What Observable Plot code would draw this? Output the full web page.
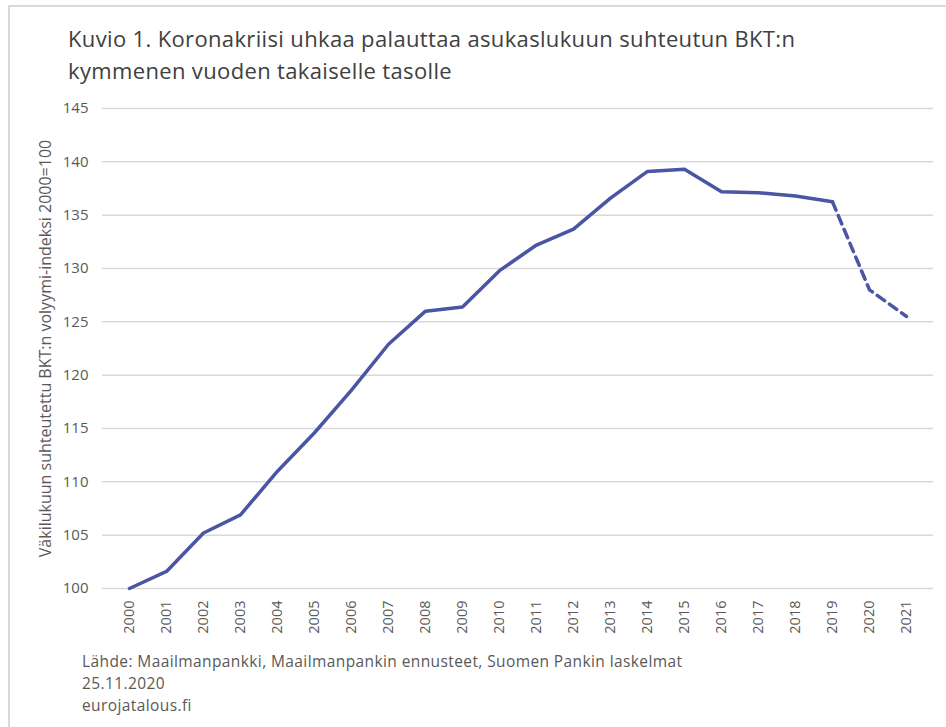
<!DOCTYPE html>
<html>
<head>
<meta charset="utf-8">
<script src="https://cdn.jsdelivr.net/npm/d3@7"></script>
<script src="https://cdn.jsdelivr.net/npm/@observablehq/plot@0.6"></script>
<style>
  body { margin: 0; background: #fff; }
  #wrap { position: relative; width: 946px; height: 727px; overflow: hidden; font-family: "Open Sans", sans-serif; }
  #frame { position: absolute; left: 8px; top: 5px; width: 960px; height: 760px; border-top: 2px solid #d9d9d9; border-left: 2px solid #d9d9d9; }
  #title { position: absolute; left: 68px; top: 22px; font-size: 22px; line-height: 32px; color: #404040; letter-spacing: 0.35px; }
  #chart { position: absolute; left: 0; top: 90px; }
  #caption { position: absolute; left: 82px; top: 650px; font-size: 15.5px; line-height: 22px; color: #595959; letter-spacing: 0.4px; }
</style>
</head>
<body>
<div id="wrap">
  <div id="frame"></div>
  <div id="title">Kuvio 1. Koronakriisi uhkaa palauttaa asukaslukuun suhteutun BKT:n<br>kymmenen vuoden takaiselle tasolle</div>
  <div id="chart"></div>
  <div id="caption">Lähde: Maailmanpankki, Maailmanpankin ennusteet, Suomen Pankin laskelmat<br>25.11.2020<br>eurojatalous.fi</div>
</div>
<script>
const years = [2000,2001,2002,2003,2004,2005,2006,2007,2008,2009,2010,2011,2012,2013,2014,2015,2016,2017,2018,2019,2020,2021];
const values = [100,101.6,105.2,106.9,111.0,114.6,118.6,122.9,126.0,126.4,129.8,132.2,133.7,136.6,139.1,139.3,137.2,137.1,136.8,136.25,128.0,125.5];
const lastActualYear = 2019;
const yTicks = [100,105,110,115,120,125,130,135,140,145];
const yLabel = "Väkilukuun suhteutettu BKT:n volyymi-indeksi 2000=100";

const data = years.map((y, i) => ({year: y, value: values[i]}));
const actual = data.filter(d => d.year <= lastActualYear);
const forecast = data.filter(d => d.year >= lastActualYear);
const lineColor = "#4a55a3";

const plot = Plot.plot({
  width: 946,
  height: 560,
  marginLeft: 102,
  marginRight: 13,
  marginTop: 18,
  marginBottom: 62,
  style: {fontFamily: "Open Sans, sans-serif", fontSize: "14.5px", color: "#595959", background: "transparent"},
  x: {type: "point", domain: years, padding: 0.5},
  y: {domain: [100, 145]},
  marks: [
    Plot.ruleY(yTicks, {stroke: "#d9d9d9", strokeWidth: 1.5}),
    Plot.axisY({ticks: yTicks, tickSize: 0, tickPadding: 14, fontSize: 15, label: null, fill: "#595959"}),
    Plot.axisY({ticks: [], tickSize: 0, label: yLabel, labelAnchor: "center", labelArrow: "none", labelOffset: 63, fontSize: 16, fill: "#595959"}),
    Plot.axisX({tickSize: 0, tickPadding: 12, tickRotate: -90, label: null, tickFormat: d => String(d), fontSize: 14.5, fill: "#595959"}),
    Plot.line(actual, {x: "year", y: "value", stroke: lineColor, strokeWidth: 3.5, strokeLinejoin: "round"}),
    Plot.line(forecast, {x: "year", y: "value", stroke: lineColor, strokeWidth: 3.5, strokeDasharray: "9,6"})
  ]
});
document.getElementById("chart").appendChild(plot);
</script>
</body>
</html>
